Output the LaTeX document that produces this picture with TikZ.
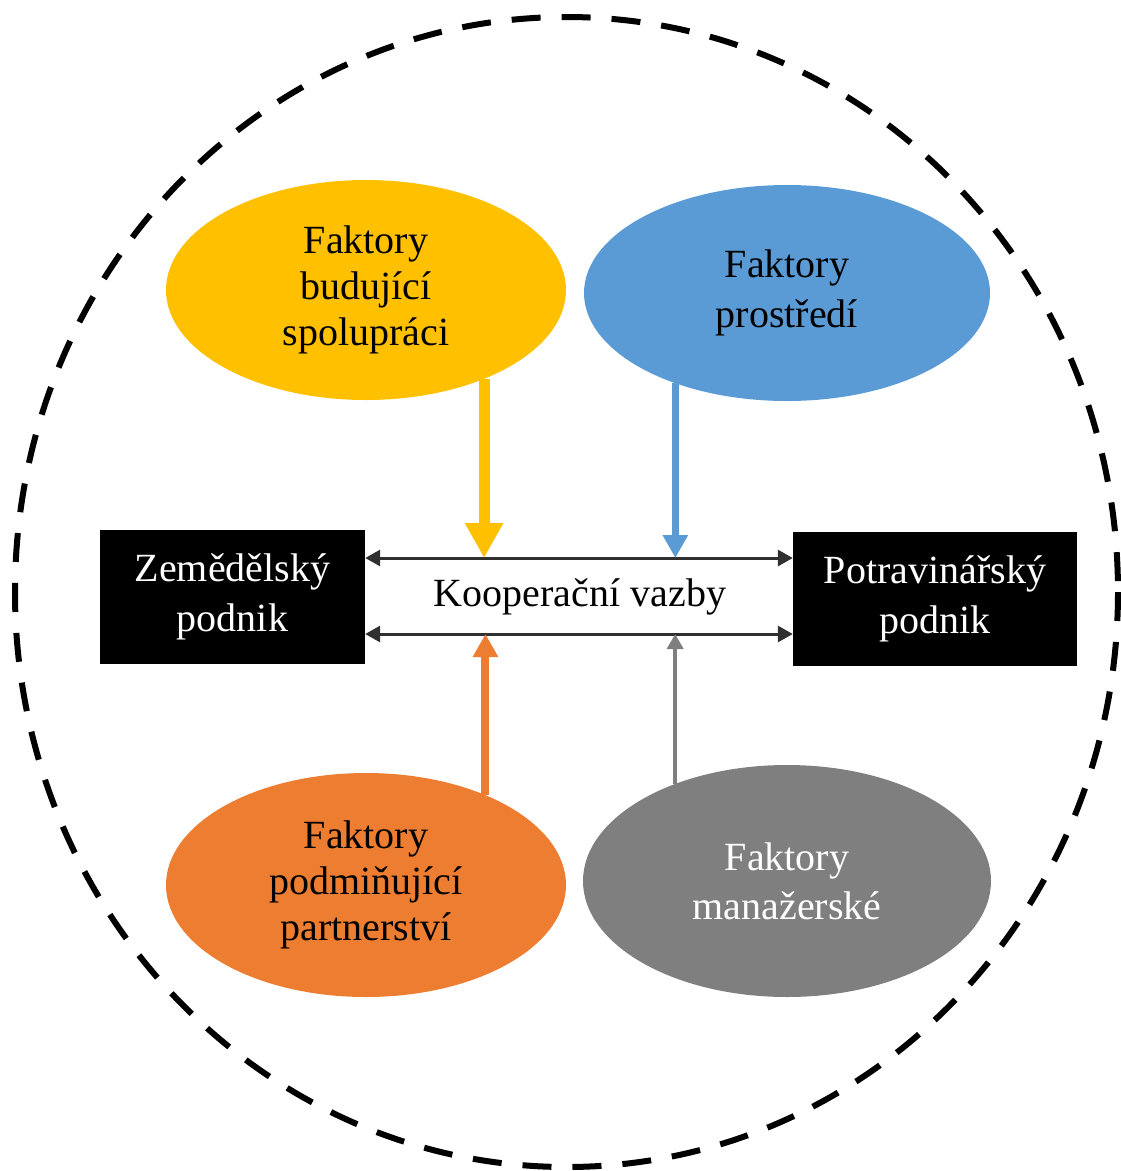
\documentclass[tikz,border=0pt]{standalone}
\usepackage{fontspec}
\setmainfont{Liberation Serif}
\usepackage{tikz}
\usetikzlibrary{shapes.geometric}
\usetikzlibrary{arrows.meta}
\usetikzlibrary{positioning}

\definecolor{factyellow}{HTML}{FFC000}
\definecolor{factblue}{HTML}{5B9BD5}
\definecolor{factorange}{HTML}{ED7D31}
\definecolor{factgray}{HTML}{7F7F7F}
\definecolor{linkgray}{HTML}{303030}

\begin{document}
\begin{tikzpicture}[
  x=1pt, y=-1pt,
  every node/.style={font=\fontsize{40}{46}\selectfont},
  factor/.style={
    ellipse, inner sep=0pt, align=center,
    minimum width=400pt, minimum height=220pt
  },
  firm/.style={
    fill=black, text=white, inner sep=0pt, align=center,
    font=\fontsize{40}{50}\selectfont
  },
  link/.style={{Triangle[width=16pt,length=15pt]}-{Triangle[width=16pt,length=15pt]},
    line width=3pt, linkgray}
]
\useasboundingbox (0,0) rectangle (1121,1171);

% Boundary
\draw[line width=6pt, dash pattern=on 29pt off 21pt]
  (566.5,592) ellipse [x radius=551.5, y radius=575];

% Nodes
\node[factor, fill=factyellow] (budujici) at (366,290) {Faktory\\budující\\spolupráci};
\node[factor, fill=factblue, minimum width=406pt, minimum height=216pt,
  font=\fontsize{40}{50}\selectfont] (prostredi) at (787,293) {Faktory\\prostředí};
\node[factor, fill=factorange, minimum height=224pt] (podminujici) at (366,885) {Faktory\\podmiňující\\partnerství};
\node[factor, fill=factgray, text=white, minimum width=408pt, minimum height=232pt,
  font=\fontsize{40}{49}\selectfont] (manazerske) at (787,881) {Faktory\\manažerské};

\node[firm, minimum width=265pt, minimum height=134pt] (zemedelsky) at (232.5,597) {Zemědělský\\podnik};
\node[firm, minimum width=284pt, minimum height=134pt] (potravinarsky) at (935,599) {Potravinářský\\podnik};

\node (kooperace) at (580,597) {Kooperační vazby};

% Links
\coordinate (upper) at ([yshift=39pt]zemedelsky.east);
\coordinate (lower) at ([yshift=-37pt]zemedelsky.east);
\draw[link] (upper) -- (upper -| potravinarsky.west);
\draw[link] (lower) -- (lower -| potravinarsky.west);

% Arrows
\draw[factyellow, line width=11pt, -{Triangle[width=36pt,length=35pt]}]
  (budujici.-37) -- (budujici.-37 |- upper);
\draw[factblue, line width=7pt, -{Triangle[width=24pt,length=23pt]}]
  (prostredi.-141) -- (prostredi.-141 |- upper);
\draw[factorange, line width=8pt, -{Triangle[width=24pt,length=23pt]}]
  (podminujici.37.5) -- (podminujici.37.5 |- lower);
\draw[factgray, line width=4pt, -{Triangle[width=16pt,length=15pt]}]
  (manazerske.139) -- (manazerske.139 |- lower);
\end{tikzpicture}
\end{document}
